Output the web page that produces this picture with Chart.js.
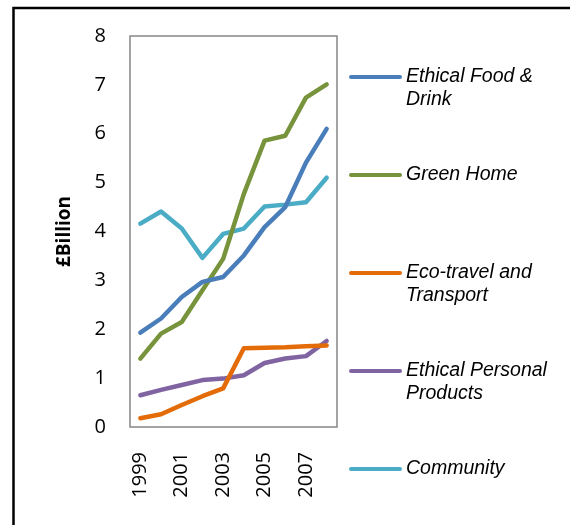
<!DOCTYPE html>
<html>
<head>
<meta charset="utf-8">
<script src="https://cdn.jsdelivr.net/npm/chart.js@4/dist/chart.umd.min.js"></script>
<style>
  body { margin: 0; background: #fff; }
  #wrap { width: 570px; height: 525px; }
</style>
</head>
<body>
<div id="wrap"><canvas id="myChart" width="570" height="525"></canvas></div>
<script>
// data
const years = ['1999', '2000', '2001', '2002', '2003', '2004', '2005', '2006', '2007', '2008'];
const seriesNames = ['Ethical Food & Drink', 'Green Home', 'Eco-travel and Transport', 'Ethical Personal Products', 'Community'];
const foodDrink = [1.93, 2.22, 2.66, 2.97, 3.07, 3.51, 4.09, 4.50, 5.41, 6.10];
const greenHome = [1.40, 1.91, 2.15, 2.80, 3.44, 4.77, 5.86, 5.96, 6.74, 7.01];
const ecoTravel = [0.18, 0.26, 0.45, 0.63, 0.79, 1.61, 1.62, 1.63, 1.65, 1.67];
const personalProducts = [0.65, 0.76, 0.86, 0.96, 0.99, 1.06, 1.31, 1.40, 1.45, 1.76];
const community = [4.16, 4.41, 4.06, 3.46, 3.95, 4.06, 4.51, 4.55, 4.60, 5.10];
const yTicks = [0, 1, 2, 3, 4, 5, 6, 7, 8];

const lineColors = ['#4A7EBB', '#77933C', '#E36C09', '#8064A2', '#4BACC6'];
const allSeries = [foodDrink, greenHome, ecoTravel, personalProducts, community];

// outer frame + grey plot box
const framePlugin = {
  id: 'frame',
  beforeDraw(chart) {
    const ctx = chart.ctx;
    ctx.save();
    ctx.strokeStyle = '#000';
    ctx.lineWidth = 2.5;
    ctx.strokeRect(13.5, 8, 1000, 1000);
    ctx.restore();
  },
  beforeDatasetsDraw(chart) {
    const a = chart.chartArea;
    const ctx = chart.ctx;
    ctx.save();
    ctx.strokeStyle = '#868686';
    ctx.lineWidth = 1.5;
    ctx.strokeRect(a.left, a.top, a.right - a.left, a.bottom - a.top);
    ctx.restore();
  }
};

// legend on the right, wrapped text like the excel one
function wrapText(ctx, text, maxW) {
  const words = text.split(' ');
  let lines = [];
  let cur = '';
  for (let i = 0; i < words.length; i++) {
    let test = cur ? cur + ' ' + words[i] : words[i];
    if (ctx.measureText(test).width > maxW && cur) {
      lines.push(cur);
      cur = words[i];
    } else {
      cur = test;
    }
  }
  lines.push(cur);
  return lines;
}

const legendPlugin = {
  id: 'sideLegend',
  afterDraw(chart) {
    const ctx = chart.ctx;
    ctx.save();
    ctx.font = 'italic 19.5px "Liberation Sans", Arial, sans-serif';
    ctx.textBaseline = 'middle';
    ctx.fillStyle = '#000';
    chart.data.datasets.forEach((ds, i) => {
      let y = 77 + i * 98;
      ctx.strokeStyle = ds.borderColor;
      ctx.lineWidth = 4;
      ctx.lineCap = 'round';
      ctx.beginPath();
      ctx.moveTo(351, y);
      ctx.lineTo(400, y);
      ctx.stroke();
      let lines = wrapText(ctx, ds.label, 150);
      lines.forEach((ln, j) => {
        ctx.fillText(ln, 406, y + j * 23);
      });
    });
    ctx.restore();
  }
};

new Chart('myChart', {
  type: 'line',
  data: {
    labels: years,
    datasets: allSeries.map((vals, i) => ({
      label: seriesNames[i],
      data: vals,
      borderColor: lineColors[i],
      backgroundColor: lineColors[i],
      borderWidth: 4.5,
      borderCapStyle: 'round',
      borderJoinStyle: 'round',
      pointRadius: 0,
      tension: 0,
      fill: false
    }))
  },
  options: {
    responsive: false,
    animation: false,
    layout: { padding: { left: 0, top: 35, right: 233, bottom: 0 } },
    plugins: {
      legend: { display: false },
      tooltip: { enabled: false }
    },
    scales: {
      x: {
        offset: true,
        grid: { display: false, drawTicks: false },
        border: { display: false },
        ticks: {
          autoSkip: false,
          minRotation: 90,
          maxRotation: 90,
          padding: 25,
          color: '#000',
          font: { family: '"Open Sans", sans-serif', size: 20 },
          callback: function (val, i) {
            return i % 2 === 0 ? years[i] : null;
          }
        },
        afterFit: function (scale) { scale.height = 98; }
      },
      y: {
        min: 0,
        max: 8,
        grid: { display: false, drawTicks: false },
        border: { display: false },
        afterBuildTicks: function (scale) {
          scale.ticks = yTicks.map(v => ({ value: v }));
        },
        ticks: {
          padding: 24,
          color: '#000',
          font: { family: '"Open Sans", sans-serif', size: 20 }
        },
        title: {
          display: true,
          text: '£Billion',
          color: '#000',
          padding: { top: 53, bottom: 0 },
          font: { family: '"Open Sans", sans-serif', size: 19, weight: 'bold' }
        },
        afterFit: function (scale) { scale.width = 130; }
      }
    }
  },
  plugins: [framePlugin, legendPlugin]
});
</script>
</body>
</html>
